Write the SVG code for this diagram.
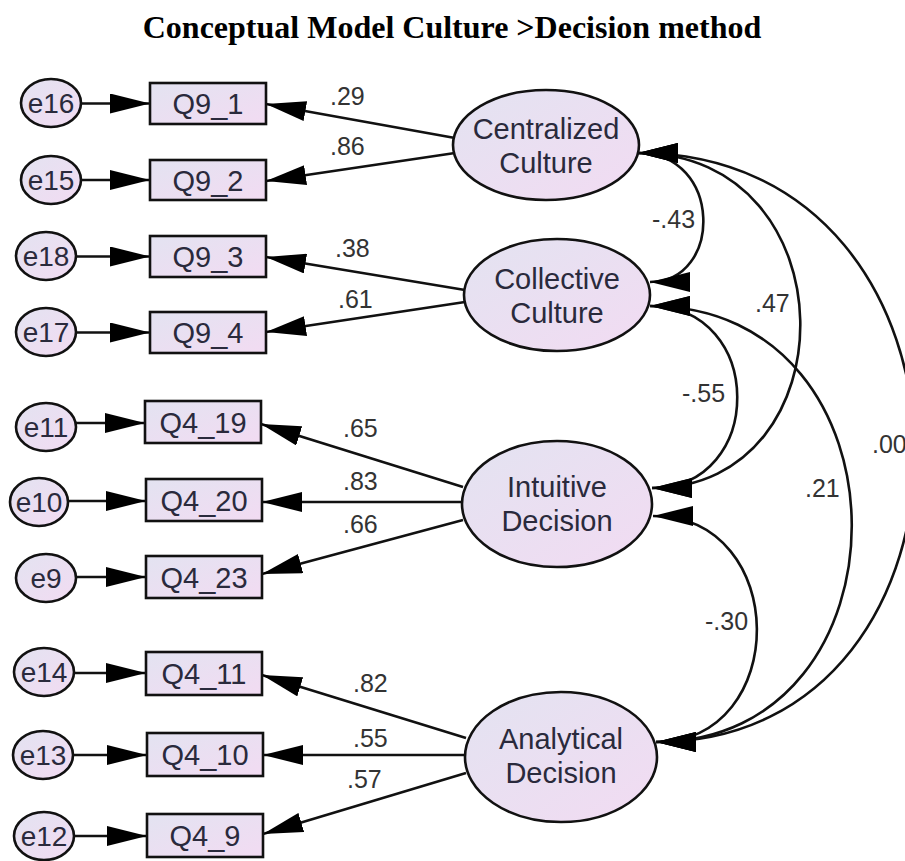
<svg xmlns="http://www.w3.org/2000/svg" width="905" height="861" viewBox="0 0 905 861">
<style>
.title{font-family:"Liberation Serif","Times New Roman",serif;font-weight:bold;font-size:32px;fill:#000;text-anchor:middle}
.shape{fill:url(#fillGrad);stroke:#111;stroke-width:2.6}
.lbl{font-family:"Liberation Sans",Arial,sans-serif;fill:#2a2a3c;text-anchor:middle}
.big{font-size:29px}
.box{font-size:29px}
.err{font-size:28px}
.num{font-family:"Liberation Sans",Arial,sans-serif;font-size:25px;fill:#333}
.ln{fill:none;stroke:#111;stroke-width:2.6}
.ar{marker-end:url(#arr)}
.cov{marker-start:url(#arrS);marker-end:url(#arr)}
</style>
<defs>
<linearGradient id="fillGrad" x1="0" y1="0" x2="1" y2="1">
<stop offset="0" stop-color="#e3e3f1"/>
<stop offset="1" stop-color="#f2dbf2"/>
</linearGradient>
<marker id="arr" markerUnits="userSpaceOnUse" viewBox="0 0 40 20" markerWidth="40" markerHeight="20" refX="40" refY="10" orient="auto">
<path d="M0,0 L40,10 L0,20 Z" fill="#000"/>
</marker>
<marker id="arrS" markerUnits="userSpaceOnUse" viewBox="0 0 40 20" markerWidth="40" markerHeight="20" refX="40" refY="10" orient="auto-start-reverse">
<path d="M0,0 L40,10 L0,20 Z" fill="#000"/>
</marker>
</defs>
<rect width="905" height="861" fill="#fff"/>
<text class="title" x="452" y="38">Conceptual Model Culture &gt;Decision method</text>

<g id="connectors">
<line class="ln ar" x1="81" y1="103.5" x2="150" y2="103.5"/>
<line class="ln ar" x1="81" y1="180" x2="150" y2="180"/>
<line class="ln ar" x1="76" y1="256.5" x2="150" y2="256.5"/>
<line class="ln ar" x1="76" y1="332.5" x2="150" y2="332.5"/>
<line class="ln ar" x1="76" y1="423" x2="145" y2="423"/>
<line class="ln ar" x1="68" y1="501" x2="146" y2="501"/>
<line class="ln ar" x1="76" y1="577" x2="146" y2="577"/>
<line class="ln ar" x1="74" y1="673" x2="146" y2="673"/>
<line class="ln ar" x1="73" y1="755" x2="147" y2="755"/>
<line class="ln ar" x1="74" y1="836" x2="147" y2="836"/>

<line class="ln ar" x1="455" y1="138" x2="266" y2="104"/>
<line class="ln ar" x1="455" y1="153" x2="266" y2="181"/>
<line class="ln ar" x1="465" y1="290" x2="266" y2="257"/>
<line class="ln ar" x1="465" y1="302" x2="266" y2="332"/>
<line class="ln ar" x1="463" y1="487" x2="261" y2="424"/>
<line class="ln ar" x1="462" y1="502" x2="262" y2="502"/>
<line class="ln ar" x1="463" y1="520" x2="262" y2="574"/>
<line class="ln ar" x1="466" y1="738" x2="262" y2="675"/>
<line class="ln ar" x1="465" y1="755" x2="263" y2="755"/>
<line class="ln ar" x1="466" y1="773" x2="263" y2="834"/>

<path class="ln cov" d="M638,153 C723,153 723,282 650,282"/>
<path class="ln cov" d="M638,153 C852,153 852,488 652,488"/>
<path class="ln cov" d="M638,153 C1004,153 1004,742 656,742"/>
<path class="ln cov" d="M650,306 C766,306 766,488 652,488"/>
<path class="ln cov" d="M650,306 C918,306 918,742 656,742"/>
<path class="ln cov" d="M653,516 C791,516 791,742 656,742"/>

<text class="num" x="330" y="105">.29</text>
<text class="num" x="330" y="155">.86</text>
<text class="num" x="335" y="257">.38</text>
<text class="num" x="338" y="308">.61</text>
<text class="num" x="343" y="437">.65</text>
<text class="num" x="343" y="490">.83</text>
<text class="num" x="343" y="533">.66</text>
<text class="num" x="353" y="692">.82</text>
<text class="num" x="353" y="747">.55</text>
<text class="num" x="347" y="788">.57</text>
<text class="num" x="652" y="228">-.43</text>
<text class="num" x="755" y="312">.47</text>
<text class="num" x="682" y="402">-.55</text>
<text class="num" x="872" y="453">.00</text>
<text class="num" x="805" y="497">.21</text>
<text class="num" x="705" y="630">-.30</text>
</g>

<g id="e16"><ellipse class="shape" cx="51" cy="103" rx="30" ry="24"/><text class="lbl err" x="51" y="113">e16</text></g>
<g id="e15"><ellipse class="shape" cx="51" cy="180" rx="30" ry="24"/><text class="lbl err" x="51" y="190">e15</text></g>
<g id="e18"><ellipse class="shape" cx="46" cy="256" rx="30" ry="24"/><text class="lbl err" x="46" y="266">e18</text></g>
<g id="e17"><ellipse class="shape" cx="46" cy="332" rx="30" ry="24"/><text class="lbl err" x="46" y="342">e17</text></g>
<g id="e11"><ellipse class="shape" cx="46" cy="427" rx="30" ry="24"/><text class="lbl err" x="46" y="437">e11</text></g>
<g id="e10"><ellipse class="shape" cx="39" cy="502" rx="29" ry="24"/><text class="lbl err" x="39" y="512">e10</text></g>
<g id="e9"><ellipse class="shape" cx="46" cy="578" rx="30" ry="24"/><text class="lbl err" x="46" y="588">e9</text></g>
<g id="e14"><ellipse class="shape" cx="44" cy="672" rx="30" ry="24"/><text class="lbl err" x="44" y="682">e14</text></g>
<g id="e13"><ellipse class="shape" cx="43" cy="755" rx="30" ry="24"/><text class="lbl err" x="43" y="765">e13</text></g>
<g id="e12"><ellipse class="shape" cx="44" cy="836" rx="30" ry="24"/><text class="lbl err" x="44" y="846">e12</text></g>

<g id="Q9_1"><rect class="shape" x="150" y="83" width="116" height="41"/><text class="lbl box" x="208" y="114">Q9_1</text></g>
<g id="Q9_2"><rect class="shape" x="150" y="160" width="116" height="40"/><text class="lbl box" x="208" y="191">Q9_2</text></g>
<g id="Q9_3"><rect class="shape" x="150" y="236" width="116" height="41"/><text class="lbl box" x="208" y="267">Q9_3</text></g>
<g id="Q9_4"><rect class="shape" x="150" y="312" width="116" height="41"/><text class="lbl box" x="208" y="343">Q9_4</text></g>
<g id="Q4_19"><rect class="shape" x="145" y="401" width="116" height="42"/><text class="lbl box" x="203" y="433">Q4_19</text></g>
<g id="Q4_20"><rect class="shape" x="146" y="479" width="116" height="42"/><text class="lbl box" x="204" y="511">Q4_20</text></g>
<g id="Q4_23"><rect class="shape" x="146" y="556" width="116" height="42"/><text class="lbl box" x="204" y="588">Q4_23</text></g>
<g id="Q4_11"><rect class="shape" x="146" y="652" width="116" height="43"/><text class="lbl box" x="204" y="684">Q4_11</text></g>
<g id="Q4_10"><rect class="shape" x="147" y="733" width="116" height="43"/><text class="lbl box" x="205" y="765">Q4_10</text></g>
<g id="Q4_9"><rect class="shape" x="147" y="814" width="116" height="43"/><text class="lbl box" x="205" y="846">Q4_9</text></g>

<g id="CentralizedCulture"><ellipse class="shape" cx="546" cy="145" rx="93" ry="55"/><text class="lbl big" x="546" y="139">Centralized</text><text class="lbl big" x="546" y="173">Culture</text></g>
<g id="CollectiveCulture"><ellipse class="shape" cx="557" cy="295" rx="93" ry="56"/><text class="lbl big" x="557" y="289">Collective</text><text class="lbl big" x="557" y="323">Culture</text></g>
<g id="IntuitiveDecision"><ellipse class="shape" cx="557" cy="504" rx="95" ry="63"/><text class="lbl big" x="557" y="497">Intuitive</text><text class="lbl big" x="557" y="531">Decision</text></g>
<g id="AnalyticalDecision"><ellipse class="shape" cx="561" cy="757" rx="96" ry="65"/><text class="lbl big" x="561" y="749">Analytical</text><text class="lbl big" x="561" y="783">Decision</text></g>
</svg>
